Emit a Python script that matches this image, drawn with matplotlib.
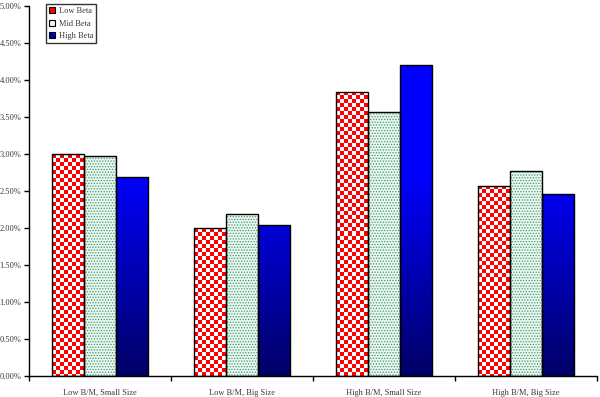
import matplotlib
matplotlib.use("Agg")
import matplotlib.pyplot as plt
import matplotlib.patches as mpatches
from matplotlib.ticker import FuncFormatter, MultipleLocator
import numpy as np

# values (percent)
categories = ["Low B/M, Small Size", "Low B/M, Big Size", "High B/M, Small Size", "High B/M, Big Size"]
series_names = ["Low Beta", "Mid Beta", "High Beta"]
low_beta = [3.00, 2.00, 3.84, 2.57]
mid_beta = [2.98, 2.20, 3.57, 2.77]
high_beta = [2.69, 2.05, 4.21, 2.47]

plt.rcParams['font.family'] = ['Liberation Serif', 'DejaVu Serif']
plt.rcParams['hatch.linewidth'] = 0.6
txt_color = '#3a3a3a'

fig = plt.figure(figsize=(6, 3.97), dpi=100)
ax = fig.add_axes([29 / 600, 1 - 376.3 / 397, 568 / 600, 370 / 397])

x = np.arange(len(categories))
w = 0.225
ax.set_xlim(-0.5, len(categories) - 0.5)
ax.set_ylim(0, 5.0)

# mid beta: mint fill with green dots (hatch colour follows edgecolor, so outline drawn separately)
ax.bar(x, mid_beta, w, facecolor='#eaf6ef', edgecolor='#3f9a70', linewidth=0, hatch='......', zorder=2)

bars_low = ax.bar(x - w, low_beta, w, facecolor='none', edgecolor='black', linewidth=1, zorder=3)
bars_mid = ax.bar(x, mid_beta, w, facecolor='none', edgecolor='black', linewidth=1, zorder=3)
bars_high = ax.bar(x + w, high_beta, w, facecolor='none', edgecolor='black', linewidth=1, zorder=3)


def px_size(patch):
    x0, y0 = ax.transData.transform((patch.get_x(), patch.get_y()))
    x1, y1 = ax.transData.transform((patch.get_x() + patch.get_width(), patch.get_y() + patch.get_height()))
    return max(1, int(round(x1 - x0))), max(1, int(round(y1 - y0)))


def fill_image(patch, img):
    px = patch.get_x()
    im = ax.imshow(img, extent=(px, px + patch.get_width(), 0, patch.get_height()),
                   aspect='auto', interpolation='nearest', origin='upper', zorder=2)
    im.set_clip_path(patch)


def checker(patch):
    wp, hp = px_size(patch)
    cell = 4
    jj, ii = np.meshgrid(np.arange(wp), np.arange(hp))
    mask = ((ii // cell) + (jj // cell)) % 2 == 0
    img = np.ones((hp, wp, 3))
    img[mask] = (1.0, 0.0, 0.0)
    return img


def gradient(patch):
    wp, hp = px_size(patch)
    full = 370.0
    # fraction of the axis height above the baseline, row 0 at the bar top
    frac = (hp - np.arange(hp) - 0.5) / full
    t = np.clip((0.55 - frac) / 0.55, 0, 1)
    top = np.array([0.0, 0.0, 1.0])
    bottom = np.array([0.0, 0.0, 0.40])
    col = top[None, :] * (1 - t[:, None]) + bottom[None, :] * t[:, None]
    return np.repeat(col[:, None, :], wp, axis=1)


for p in bars_low:
    fill_image(p, checker(p))
for p in bars_high:
    fill_image(p, gradient(p))

ax.set_xlim(-0.5, len(categories) - 0.5)
ax.set_ylim(0, 5.0)

ax.spines['top'].set_visible(False)
ax.spines['right'].set_visible(False)
for s in ('left', 'bottom'):
    ax.spines[s].set_linewidth(1)
    ax.spines[s].set_color('black')

ax.yaxis.set_major_locator(MultipleLocator(0.5))
ax.yaxis.set_major_formatter(FuncFormatter(lambda v, pos: f"{v:.2f}%"))
ax.tick_params(axis='y', direction='out', length=3.5, width=1, labelsize=6, labelcolor=txt_color, pad=2)

ax.set_xticks(np.arange(len(categories) + 1) - 0.5)
ax.set_xticklabels([])
ax.set_xticks(x, minor=True)
ax.set_xticklabels(categories, minor=True)
ax.tick_params(axis='x', which='major', direction='out', length=3.5, width=1)
ax.tick_params(axis='x', which='minor', length=0, labelsize=6, labelcolor=txt_color, pad=9)

handles = [
    mpatches.Patch(facecolor='#ff0000', edgecolor='black', linewidth=0.8),
    mpatches.Patch(facecolor='#eaf6ef', edgecolor='black', linewidth=0.8),
    mpatches.Patch(facecolor='#0000c8', edgecolor='black', linewidth=0.8),
]
leg = fig.legend(handles, series_names, loc='upper left', bbox_to_anchor=(46 / 600, 1 - 4 / 397),
                 bbox_transform=fig.transFigure, fontsize=6, frameon=True, fancybox=False,
                 handlelength=0.7, handleheight=0.7, handletextpad=0.5, borderpad=0.35,
                 labelspacing=0.55, borderaxespad=0)
leg.get_frame().set_edgecolor('black')
leg.get_frame().set_linewidth(1)
for t in leg.get_texts():
    t.set_color(txt_color)

fig.savefig("out.png", dpi=100)
